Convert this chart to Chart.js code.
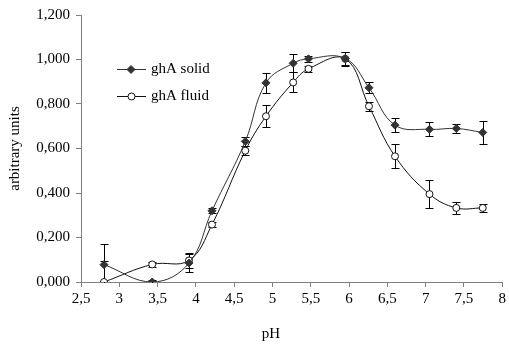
<!DOCTYPE html>
<html>
<head>
<meta charset="utf-8">
<script src="https://cdn.jsdelivr.net/npm/chart.js@4/dist/chart.umd.min.js"></script>
<style>
  html, body { margin: 0; padding: 0; background: #fff; }
  #wrap { width: 509px; height: 345px; }
</style>
</head>
<body>
<div id="wrap"><canvas id="chart" width="509" height="345"></canvas></div>
<script>
// ================= DATA =================
const pH = [2.8, 3.43, 3.91, 4.21, 4.645, 4.915, 5.27, 5.47, 5.95, 6.26, 6.6, 7.05, 7.4, 7.745];

const solid = [0.078, 0.0, 0.085, 0.32, 0.632, 0.895, 0.983, 1.003, 1.005, 0.873, 0.705, 0.686, 0.69, 0.672];
const solidErr = [0.092, 0.01, 0.04, 0.012, 0.02, 0.045, 0.04, 0.012, 0.03, 0.025, 0.03, 0.032, 0.02, 0.053];

const fluid = [0.0, 0.079, 0.097, 0.258, 0.59, 0.745, 0.897, 0.958, 1.003, 0.79, 0.565, 0.395, 0.333, 0.333];
const fluidErr = [0.095, 0.012, 0.035, 0.01, 0.02, 0.05, 0.045, 0.015, 0.03, 0.02, 0.053, 0.063, 0.026, 0.018];

const xTicks = [2.5, 3, 3.5, 4, 4.5, 5, 5.5, 6, 6.5, 7, 7.5, 8];
const yTicks = [0, 0.2, 0.4, 0.6, 0.8, 1.0, 1.2];

const FONT = "'Liberation Serif', 'Times New Roman', serif";
const comma = v => String(v).replace(".", ",");

// ================= PLUGINS =================
// error bars, drawn under the markers
const errorBars = {
  id: "errorBars",
  beforeDatasetsDraw(chart) {
    const { ctx, chartArea: a, scales: { x, y } } = chart;
    ctx.save();
    ctx.beginPath();
    ctx.rect(a.left, a.top, a.right - a.left, a.bottom - a.top + 1);
    ctx.clip();
    ctx.strokeStyle = "#000";
    ctx.lineWidth = 1;
    chart.data.datasets.forEach(ds => {
      ds.data.forEach((p, i) => {
        const e = ds.errors[i];
        if (!e) return;
        const px = Math.round(x.getPixelForValue(p.x)) + 0.5;
        const top = Math.round(y.getPixelForValue(p.y + e)) + 0.5;
        const bot = Math.round(y.getPixelForValue(p.y - e)) + 0.5;
        ctx.beginPath();
        ctx.moveTo(px, top); ctx.lineTo(px, bot);
        ctx.moveTo(px - 4, top); ctx.lineTo(px + 4, top);
        ctx.moveTo(px - 4, bot); ctx.lineTo(px + 4, bot);
        ctx.stroke();
      });
    });
    ctx.restore();
  }
};

// legend inside plot + x title
const extras = {
  id: "extras",
  afterDraw(chart) {
    const ctx = chart.ctx;
    ctx.save();
    chart.data.datasets.forEach((ds, i) => {
      const ly = 69.5 + i * 27;
      ctx.strokeStyle = ds.borderColor;
      ctx.lineWidth = 1;
      ctx.beginPath();
      ctx.moveTo(117, ly); ctx.lineTo(146, ly);
      ctx.stroke();
      ctx.fillStyle = ds.pointBackgroundColor;
      ctx.strokeStyle = ds.pointBorderColor;
      ctx.beginPath();
      if (ds.pointStyle === "rectRot") {
        ctx.moveTo(131, ly - 4); ctx.lineTo(135, ly); ctx.lineTo(131, ly + 4); ctx.lineTo(127, ly);
        ctx.closePath();
      } else {
        ctx.arc(131.5, ly, 3.5, 0, Math.PI * 2);
      }
      ctx.fill();
      ctx.stroke();
      ctx.fillStyle = "#000";
      ctx.font = "15px " + FONT;
      ctx.textBaseline = "middle";
      ctx.fillText(ds.label, 151, ly);
    });
    ctx.font = "15px " + FONT;
    ctx.textAlign = "center";
    ctx.textBaseline = "alphabetic";
    ctx.fillText("pH", 271, 338);
    ctx.restore();
  }
};

// ================= CHART =================
const chart = new Chart(document.getElementById("chart"), {
  type: "line",
  data: {
    datasets: [
      {
        label: "ghA solid",
        data: pH.map((v, i) => ({ x: v, y: solid[i] })),
        errors: solidErr,
        borderColor: "#333",
        borderWidth: 1,
        tension: 0.4,
        pointStyle: "rectRot",
        pointRadius: 4,
        pointBackgroundColor: "#333",
        pointBorderColor: "#333",
        pointBorderWidth: 1
      },
      {
        label: "ghA fluid",
        data: pH.map((v, i) => ({ x: v, y: fluid[i] })),
        errors: fluidErr,
        borderColor: "#111",
        borderWidth: 1,
        tension: 0.4,
        pointStyle: "circle",
        pointRadius: 3.5,
        pointBackgroundColor: "#fff",
        pointBorderColor: "#111",
        pointBorderWidth: 1
      }
    ]
  },
  options: {
    animation: false,
    responsive: false,
    layout: { padding: { top: 13, right: 4, left: 0, bottom: 0 } },
    plugins: { legend: { display: false }, tooltip: { enabled: false } },
    scales: {
      x: {
        type: "linear",
        min: 2.5,
        max: 8,
        afterBuildTicks: s => { s.ticks = xTicks.map(v => ({ value: v })); },
        afterFit: s => { s.height = 63; },
        border: { color: "#808080", width: 1 },
        grid: { drawOnChartArea: false, tickLength: 5, color: "#808080" },
        ticks: {
          color: "#000",
          font: { family: FONT, size: 15 },
          padding: 3,
          maxRotation: 0,
          autoSkip: false,
          callback: v => comma(v)
        }
      },
      y: {
        min: 0,
        max: 1.2,
        afterBuildTicks: s => { s.ticks = yTicks.map(v => ({ value: v })); },
        afterFit: s => { s.width = 81; },
        border: { color: "#808080", width: 1 },
        grid: { drawOnChartArea: false, tickLength: 5, color: "#808080" },
        title: {
          display: true,
          text: "arbitrary units",
          color: "#000",
          font: { family: FONT, size: 15 },
          padding: { top: 6, bottom: 0 }
        },
        ticks: {
          color: "#000",
          font: { family: FONT, size: 15 },
          padding: 6,
          callback: v => v.toFixed(3).replace(".", ",")
        }
      }
    }
  },
  plugins: [errorBars, extras]
});
</script>
</body>
</html>
